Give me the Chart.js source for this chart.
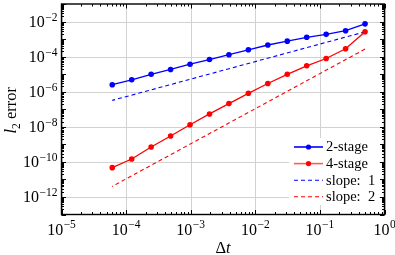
<!DOCTYPE html>
<html>
<head>
<meta charset="utf-8">
<script src="https://cdn.jsdelivr.net/npm/chart.js@4.4.0/dist/chart.umd.min.js"></script>
<style>
  html, body { margin: 0; padding: 0; background: #fff; }
  #wrap { width: 395px; height: 255px; position: relative; }
</style>
</head>
<body>
<div id="wrap"><canvas id="errChart" width="395" height="255"></canvas></div>
<script>
// Time step sizes (x) and l2 errors
const dtValues = [0.5, 0.25, 0.125, 0.0625, 0.03125, 0.015625, 0.0078125, 0.00390625,
    0.001953125, 0.0009765625, 0.00048828125, 0.000244140625, 0.0001220703125, 0.00006103515625];
const twoStage = [7.4e-3, 3.0e-3, 1.86e-3, 1.26e-3, 7.6e-4, 4.6e-4, 2.45e-4, 1.29e-4,
    6.8e-5, 3.7e-5, 1.86e-5, 9.8e-6, 4.8e-6, 2.5e-6];
const fourStage = [2.6e-3, 2.8e-4, 7.8e-5, 3.0e-5, 9.8e-6, 2.95e-6, 8.1e-7, 2.1e-7,
    5.4e-8, 1.3e-8, 3.0e-9, 7.1e-10, 1.45e-10, 4.7e-11];

// Reference slope lines (end points)
const slopeX = [0.5, 0.00006103515625];
const slopeOne = [2.6e-3, 3.2e-7];
const slopeTwo = [2.7e-4, 4.0e-12];

// Axis ticks
const xMajor = [-5, -4, -3, -2, -1, 0];
const yLabelled = [-12, -10, -8, -6, -4, -2];

const legendItems = [
    { text: '2-stage', color: '#0000ff', dash: [], marker: true },
    { text: '4-stage', color: 'rgba(255,0,0,0.65)', dash: [], marker: true, markerColor: '#ff0000' },
    { text: 'slope:  1', color: '#0000ff', dash: [4, 3], marker: false },
    { text: 'slope:  2', color: '#ff0000', dash: [4, 3], marker: false }
];

const serif = "'Liberation Serif', 'DejaVu Serif', serif";

function pts(xs, ys) {
    return xs.map((x, i) => ({ x: x, y: ys[i] }));
}

// draws "10" with a superscript exponent
function drawPow(ctx, exp, x, y, align) {
    const base = '10';
    const sup = exp < 0 ? '\u2212' + (-exp) : String(exp);
    ctx.font = '16px ' + serif;
    const wb = ctx.measureText(base).width;
    ctx.font = '11.5px ' + serif;
    const ws = ctx.measureText(sup).width;
    const total = wb + ws + 0.5;
    let start = align === 'center' ? x - total / 2 : x - total;
    ctx.textAlign = 'left';
    ctx.textBaseline = 'alphabetic';
    ctx.fillStyle = '#000';
    ctx.font = '16px ' + serif;
    ctx.fillText(base, start, y);
    ctx.font = '11.5px ' + serif;
    ctx.fillText(sup, start + wb + 0.5, y - 6.5);
}

const axesPlugin = {
    id: 'axesPlugin',
    beforeDatasetsDraw(chart) {
        const { ctx, chartArea: a, scales: { x, y } } = chart;
        ctx.save();
        ctx.strokeStyle = '#d2d2d2';
        ctx.lineWidth = 1;
        xMajor.forEach(e => {
            const px = Math.round(x.getPixelForValue(Math.pow(10, e))) + 0.5;
            ctx.beginPath(); ctx.moveTo(px, a.top); ctx.lineTo(px, a.bottom); ctx.stroke();
        });
        yLabelled.forEach(e => {
            const py = Math.round(y.getPixelForValue(Math.pow(10, e))) + 0.5;
            ctx.beginPath(); ctx.moveTo(a.left, py); ctx.lineTo(a.right, py); ctx.stroke();
        });
        ctx.restore();
    },
    afterDatasetsDraw(chart) {
        const { ctx, chartArea: a, scales: { x, y } } = chart;
        ctx.save();
        ctx.strokeStyle = '#000';
        ctx.lineWidth = 1;

        // x ticks, top and bottom, inward
        for (let e = -5; e <= 0; e++) {
            for (let k = 1; k <= 9; k++) {
                const v = k * Math.pow(10, e);
                if (v > 1.0001) break;
                const px = Math.round(x.getPixelForValue(v)) + 0.5;
                const len = k === 1 ? 4.5 : 2.5;
                ctx.beginPath();
                ctx.moveTo(px, a.bottom); ctx.lineTo(px, a.bottom - len);
                ctx.moveTo(px, a.top); ctx.lineTo(px, a.top + len);
                ctx.stroke();
            }
        }
        // y ticks, left and right, inward
        for (let e = -13; e <= -1; e++) {
            for (let k = 1; k <= 9; k++) {
                const v = k * Math.pow(10, e);
                if (v > 0.10001) break;
                const py = Math.round(y.getPixelForValue(v)) + 0.5;
                const len = k === 1 ? 4.5 : 2.5;
                ctx.beginPath();
                ctx.moveTo(a.left, py); ctx.lineTo(a.left + len, py);
                ctx.moveTo(a.right, py); ctx.lineTo(a.right - len, py);
                ctx.stroke();
            }
        }

        // frame
        ctx.lineWidth = 1.4;
        ctx.strokeRect(a.left, a.top, a.right - a.left, a.bottom - a.top);

        // tick labels
        xMajor.forEach(e => {
            drawPow(ctx, e, x.getPixelForValue(Math.pow(10, e)), a.bottom + 20, 'center');
        });
        yLabelled.forEach(e => {
            drawPow(ctx, e, a.left - 4, y.getPixelForValue(Math.pow(10, e)) + 5.5, 'right');
        });

        // axis titles
        ctx.fillStyle = '#000';
        ctx.textBaseline = 'alphabetic';
        ctx.font = '16.5px ' + serif;
        const wD = ctx.measureText('\u0394').width;
        ctx.font = 'italic 16.5px ' + serif;
        const wT = ctx.measureText('t').width;
        let sx = (a.left + a.right) / 2 - (wD + wT) / 2;
        ctx.font = '16.5px ' + serif;
        ctx.fillText('\u0394', sx, 253);
        ctx.font = 'italic 16.5px ' + serif;
        ctx.fillText('t', sx + wD, 253);

        ctx.save();
        ctx.translate(16, (a.top + a.bottom) / 2 + 1);
        ctx.rotate(-Math.PI / 2);
        ctx.font = 'italic 16.5px ' + serif;
        const wl = ctx.measureText('l').width;
        ctx.font = '11.5px ' + serif;
        const w2 = ctx.measureText('2').width;
        ctx.font = '16.5px ' + serif;
        const we = ctx.measureText(' error').width;
        let tx = -(wl + w2 + we) / 2;
        ctx.font = 'italic 16.5px ' + serif;
        ctx.fillText('l', tx, 0);
        ctx.font = '11.5px ' + serif;
        ctx.fillText('2', tx + wl, 3.5);
        ctx.font = '16.5px ' + serif;
        ctx.fillText(' error', tx + wl + w2, 0);
        ctx.restore();

        // legend
        const boxL = 289, boxT = 138, boxW = 90, boxH = 67;
        ctx.fillStyle = '#fff';
        ctx.fillRect(boxL, boxT, boxW, boxH);
        legendItems.forEach((it, i) => {
            const cy = 147 + i * 16.6;
            ctx.save();
            ctx.strokeStyle = it.color;
            ctx.lineWidth = it.marker ? 1.6 : 1.1;
            ctx.setLineDash(it.dash);
            ctx.beginPath();
            ctx.moveTo(294, cy); ctx.lineTo(323, cy);
            ctx.stroke();
            ctx.restore();
            if (it.marker) {
                ctx.fillStyle = it.markerColor || it.color;
                ctx.beginPath();
                ctx.arc(308.5, cy, 2.6, 0, Math.PI * 2);
                ctx.fill();
            }
            ctx.fillStyle = '#000';
            ctx.font = '14.5px ' + serif;
            ctx.textBaseline = 'middle';
            ctx.fillText(it.text, 326, cy + 0.5);
        });
        ctx.restore();
    }
};

const ctx = document.getElementById('errChart');
new Chart(ctx.getContext('2d'), {
    type: 'line',
    data: {
        datasets: [
            {
                label: '2-stage',
                data: pts(dtValues, twoStage),
                borderColor: '#0000ff',
                backgroundColor: '#0000ff',
                borderWidth: 1.3,
                pointRadius: 2.8,
                pointBorderWidth: 0,
                tension: 0
            },
            {
                label: '4-stage',
                data: pts(dtValues, fourStage),
                borderColor: '#ff0000',
                backgroundColor: '#ff0000',
                borderWidth: 1.3,
                pointRadius: 2.8,
                pointBorderWidth: 0,
                tension: 0
            },
            {
                label: 'slope: 1',
                data: pts(slopeX, slopeOne),
                borderColor: '#0000ff',
                borderWidth: 1.1,
                borderDash: [4, 3],
                pointRadius: 0
            },
            {
                label: 'slope: 2',
                data: pts(slopeX, slopeTwo),
                borderColor: '#ff0000',
                borderWidth: 1.1,
                borderDash: [4, 3],
                pointRadius: 0
            }
        ]
    },
    options: {
        responsive: false,
        animation: false,
        layout: { padding: { left: 61.5, right: 10.5, top: 1, bottom: 40.5 } },
        plugins: {
            legend: { display: false },
            tooltip: { enabled: false }
        },
        scales: {
            x: { type: 'logarithmic', min: 1e-5, max: 1, display: false },
            y: { type: 'logarithmic', min: 1e-13, max: 1e-1, display: false }
        }
    },
    plugins: [axesPlugin]
});
</script>
</body>
</html>
